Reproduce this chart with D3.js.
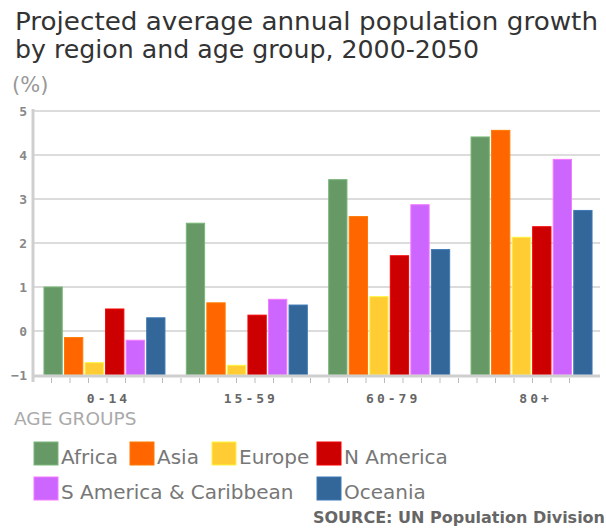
<!DOCTYPE html>
<html><head><meta charset="utf-8">
<script src="https://cdn.jsdelivr.net/npm/d3@7"></script>
<style>body{margin:0;background:#fff}svg{display:block}</style>
</head><body>
<script>
const categories = ["0-14", "15-59", "60-79", "80+"];
const seriesNames = ["Africa", "Asia", "Europe", "N America", "S America & Caribbean", "Oceania"];
const africa    = [1.00, 2.45, 3.44, 4.41];
const asia      = [-0.15, 0.64, 2.60, 4.56];
const europe    = [-0.72, -0.78, 0.78, 2.13];
const nAmerica  = [0.50, 0.36, 1.71, 2.37];
const sAmerica  = [-0.21, 0.72, 2.87, 3.90];
const oceania   = [0.30, 0.59, 1.85, 2.74];
const yTicks = [-1, 0, 1, 2, 3, 4, 5];
const colors = ["#669966", "#ff6600", "#ffcc33", "#cc0000", "#cc66ff", "#336699"];

(function () {
const seriesValues = [africa, asia, europe, nAmerica, sAmerica, oceania];
const W = 606, H = 529;
const svg = d3.select("body").append("svg").attr("width", W).attr("height", H);

// Title
const title = svg.append("text")
  .attr("font-family", "DejaVu Sans, Verdana, sans-serif").attr("font-size", 24).attr("fill", "#333");
title.append("tspan").attr("x", 15).attr("y", 30).attr("textLength", 583).attr("lengthAdjust", "spacingAndGlyphs")
  .text("Projected average annual population growth");
title.append("tspan").attr("x", 15).attr("y", 58).attr("textLength", 464).attr("lengthAdjust", "spacingAndGlyphs")
  .text("by region and age group, 2000-2050");
svg.append("text").attr("x", 12).attr("y", 92).text("(%)")
  .attr("font-family", "DejaVu Sans, Verdana, sans-serif").attr("font-size", 21).attr("fill", "#999");

const pl = 33, pr = 600, pt = 111, pb = 375;
const y = d3.scaleLinear().domain([-1, 5]).range([pb, pt]);
const x0 = d3.scaleBand().domain(categories).range([pl, 603]).paddingInner(0.15).paddingOuter(0.077);
const x1 = d3.scaleBand().domain(seriesNames).range([0, x0.bandwidth()]).paddingInner(0.11);

// gridlines
svg.append("g").selectAll("line").data(yTicks.filter(d => d > -1)).join("line")
  .attr("x1", pl).attr("x2", pr).attr("y1", d => y(d)).attr("y2", d => y(d))
  .attr("stroke", "#dcdcdc").attr("stroke-width", 2);

// y axis
const yAxis = svg.append("g").attr("transform", `translate(${pl},0)`)
  .call(d3.axisLeft(y).tickValues(yTicks).tickSize(0).tickPadding(6).tickFormat(d3.format("d")));
yAxis.select(".domain").remove();
yAxis.selectAll("text").attr("font-family", "DejaVu Sans Mono, monospace").attr("font-size", 13)
  .attr("font-weight", "bold").attr("fill", "#888");

// bars
const groups = svg.append("g").selectAll("g").data(categories).join("g")
  .attr("transform", d => `translate(${x0(d)},0)`);
groups.selectAll("rect").data((c, ci) => seriesNames.map((s, si) => ({s, si, v: seriesValues[si][ci]}))).join("rect")
  .attr("x", d => x1(d.s)).attr("width", x1.bandwidth())
  .attr("y", d => y(d.v)).attr("height", d => y(-1) - y(d.v))
  .attr("fill", d => colors[d.si])
  .attr("stroke", d => d3.color(colors[d.si]).brighter(0.5)).attr("stroke-width", 1);

// axis lines
svg.append("line").attr("x1", pl).attr("x2", pl).attr("y1", pt - 2).attr("y2", pb + 7)
  .attr("stroke", "#cfcfcf").attr("stroke-width", 3);
svg.append("line").attr("x1", pl).attr("x2", pr).attr("y1", pb + 1).attr("y2", pb + 1)
  .attr("stroke", "#cfcfcf").attr("stroke-width", 3);

// minor x ticks
const tickScale = d3.scaleLinear().domain([0, 30]).range([pl, pl + 555]);
svg.append("g").selectAll("line").data(d3.range(1, 30)).join("line")
  .attr("x1", d => tickScale(d)).attr("x2", d => tickScale(d))
  .attr("y1", pb + 3).attr("y2", pb + 8).attr("stroke", "#bbb").attr("stroke-width", 1);

// x category labels
const xAxis = svg.append("g").attr("transform", `translate(4,${pb})`)
  .call(d3.axisBottom(x0).tickSize(0).tickPadding(19));
xAxis.select(".domain").remove();
xAxis.selectAll("text").attr("font-family", "DejaVu Sans Mono, monospace").attr("font-size", 13)
  .attr("font-weight", "bold").attr("fill", "#666").attr("letter-spacing", 3);

svg.append("text").attr("x", 14).attr("y", 425).text("AGE GROUPS")
  .attr("font-family", "DejaVu Sans, Verdana, sans-serif").attr("font-size", 18.5).attr("fill", "#aaa");

// legend
const legendPos = [[34, 442], [130, 442], [212, 442], [317, 442], [34, 477], [317, 477]];
const leg = svg.append("g").selectAll("g").data(seriesNames).join("g")
  .attr("transform", (d, i) => `translate(${legendPos[i][0]},${legendPos[i][1]})`);
leg.append("rect").attr("width", 24).attr("height", 23).attr("fill", (d, i) => colors[i])
  .attr("stroke", (d, i) => d3.color(colors[i]).brighter(0.5));
leg.append("text").attr("x", 27).attr("y", 22).text(d => d)
  .attr("font-family", "DejaVu Sans, Verdana, sans-serif").attr("font-size", 20).attr("fill", "#777");

svg.append("text").attr("x", 605).attr("y", 523).attr("text-anchor", "end")
  .text("SOURCE: UN Population Division")
  .attr("font-family", "DejaVu Sans, Verdana, sans-serif").attr("font-size", 16)
  .attr("font-weight", "bold").attr("fill", "#666");
})();
</script>
</body></html>
